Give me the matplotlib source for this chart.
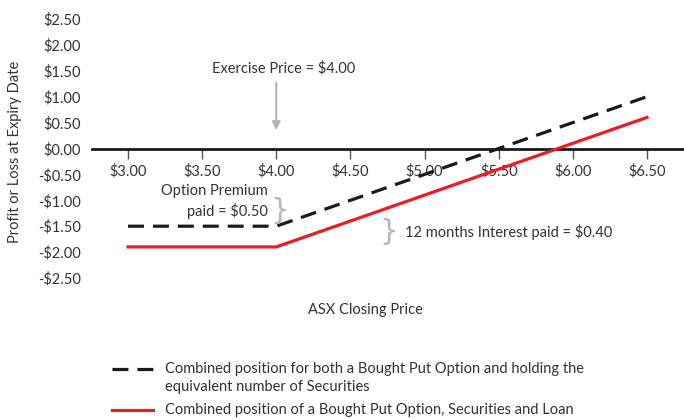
import matplotlib
matplotlib.use("Agg")
import matplotlib.pyplot as plt
from matplotlib.lines import Line2D

plt.rcParams['font.family'] = ['Lato', 'DejaVu Sans']

prices = [3.0, 4.0, 6.5]
put_and_securities = [-1.5, -1.5, 1.0]
put_securities_loan = [-1.9, -1.9, 0.6]
xticks = [3.0, 3.5, 4.0, 4.5, 5.0, 5.5, 6.0, 6.5]
xtick_labels = ["$3.00", "$3.50", "$4.00", "$4.50", "$5.00", "$5.50", "$6.00", "$6.50"]
yticks = [2.5, 2.0, 1.5, 1.0, 0.5, 0.0, -0.5, -1.0, -1.5, -2.0, -2.5]
ytick_labels = ["$2.50", "$2.00", "$1.50", "$1.00", "$0.50", "$0.00", "-$0.50", "-$1.00", "-$1.50", "-$2.00", "-$2.50"]

W, H = 684, 419
FS = 10.5
fig = plt.figure(figsize=(W/100, H/100), dpi=100)
ax = fig.add_axes([92/W, 1-278/H, 1-92/W, (278-19)/H])
ax.set_xlim(2.757, 6.75)
ax.set_ylim(-2.5, 2.5)

txt = '#333333'
ax.plot(prices, put_and_securities, color='#1a1a1a', lw=2.3, dashes=(5, 2.8), zorder=3)
ax.plot(prices, put_securities_loan, color='#ec1c24', lw=2.3, zorder=3)

for s in ['top', 'right', 'left']:
    ax.spines[s].set_visible(False)
ax.spines['bottom'].set_position(('data', 0))
ax.spines['bottom'].set_linewidth(2)
ax.spines['bottom'].set_color('#1a1a1a')
ax.set_xticks(xticks)
ax.set_xticklabels(xtick_labels)
ax.tick_params(axis='x', direction='out', length=7, width=1, color='#555555',
               labelsize=FS, labelcolor=txt, pad=4)
ax.set_yticks(yticks)
ax.set_yticklabels(ytick_labels)
ax.tick_params(axis='y', length=0, labelsize=FS, labelcolor=txt, pad=8)
ax.patch.set_alpha(0)

fig.text(15/W, 1-152/H, 'Profit or Loss at Expiry Date', rotation=90, ha='center', va='center',
         fontsize=FS, color=txt)
fig.text(365/W, 1-310/H, 'ASX Closing Price', ha='center', va='center', fontsize=FS, color=txt)

# Exercise price annotation
ax.annotate('', xy=(4.0, 0.3), xytext=(4.0, 1.32),
            arrowprops=dict(arrowstyle='-|>', color='#b3b3b3', lw=1.5, mutation_scale=12))
ax.text(4.05, 1.55, 'Exercise Price = $4.00', ha='center', va='center', fontsize=FS, color=txt)

brace_font = dict(family='DejaVu Sans', fontsize=21, color='#b8b8b8')

# Option premium
ax.text(3.94, -0.82, 'Option Premium', ha='right', va='center', fontsize=FS, color=txt)
ax.text(3.94, -1.2, 'paid = $0.50', ha='right', va='center', fontsize=FS, color=txt)
ax.text(4.02, -1.2, '}', ha='center', va='center', **brace_font)

# Interest
ax.text(4.76, -1.62, '}', ha='center', va='center', **brace_font)
ax.text(4.87, -1.62, '12 months Interest paid = $0.40', ha='left', va='center', fontsize=FS, color=txt)

# Legend
fig.add_artist(Line2D([112/W, 153/W], [1-369/H, 1-369/H], color='#1a1a1a', lw=2.3,
                      dashes=(5, 2.8), transform=fig.transFigure))
fig.add_artist(Line2D([112/W, 153/W], [1-410/H, 1-410/H], color='#ec1c24', lw=2.3,
                      transform=fig.transFigure))
fig.text(165/W, 1-369/H, 'Combined position for both a Bought Put Option and holding the',
         ha='left', va='center', fontsize=FS, color=txt)
fig.text(165/W, 1-387/H, 'equivalent number of Securities',
         ha='left', va='center', fontsize=FS, color=txt)
fig.text(165/W, 1-410/H, 'Combined position of a Bought Put Option, Securities and Loan',
         ha='left', va='center', fontsize=FS, color=txt)

fig.savefig('out.png', dpi=100)
